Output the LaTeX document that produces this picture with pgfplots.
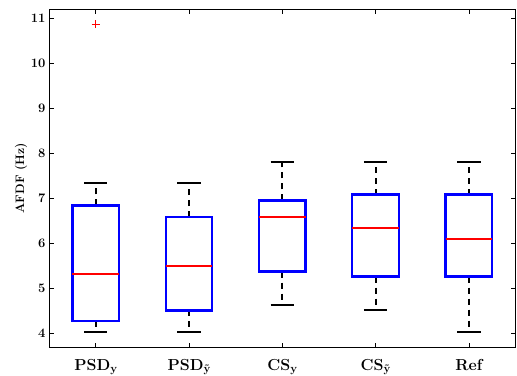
\documentclass[border=0pt]{standalone}
\usepackage{pgfplots}
\pgfplotsset{compat=1.18}
\usepgfplotslibrary{statistics}
\newcommand{\xl}[2]{\fontsize{16}{16}\selectfont\bfseries #1\raisebox{-2bp}{\fontsize{11.5}{11.5}\selectfont\bfseries #2}}
\begin{document}
\begin{tikzpicture}
\begin{axis}[
  name=ax,
  scale only axis,
  width=466bp, height=338bp,
  xmin=0.5, xmax=5.5,
  ymin=3.69, ymax=11.2,
  xtick={1,2,3,4,5},
  xticklabels={\xl{PSD}{y},\xl{PSD}{\~{y}},\xl{CS}{y},\xl{CS}{\~{y}},\xl{Ref}{}},
  ytick={4,5,6,7,8,9,10,11},
  tick align=inside,
  tick pos=both,
  major tick length=4.5bp,
  axis line style={line width=1bp},
  tick style={black, line width=0.6bp},
  /pgf/number format/assume math mode=true,
  yticklabel style={font=\fontsize{13}{13}\selectfont\bfseries},
  xticklabel style={anchor=base, yshift=-23bp},
  ylabel={\bfseries AFDF (Hz)},
  ylabel style={font=\fontsize{12.3}{13}\selectfont, yshift=-3bp},
  boxplot/draw direction=y,
  boxplot/box extend=0.5,
  boxplot/whisker extend=0.25,
  boxplot/every box/.style={draw=blue, line width=2.3bp},
  boxplot/every median/.style={draw=red, line width=2bp},
  boxplot/draw/lower whisker/.code={
    \draw[black, line width=2bp, dash pattern=on 6bp off 5bp]
      (boxplot box cs:\pgfplotsboxplotvalue{lower quartile},0.5) -- (boxplot box cs:\pgfplotsboxplotvalue{lower whisker},0.5);
    \draw[black, line width=2bp]
      (boxplot whisker cs:\pgfplotsboxplotvalue{lower whisker},0) -- (boxplot whisker cs:\pgfplotsboxplotvalue{lower whisker},1);
  },
  boxplot/draw/upper whisker/.code={
    \draw[black, line width=2bp, dash pattern=on 6bp off 5bp]
      (boxplot box cs:\pgfplotsboxplotvalue{upper quartile},0.5) -- (boxplot box cs:\pgfplotsboxplotvalue{upper whisker},0.5);
    \draw[black, line width=2bp]
      (boxplot whisker cs:\pgfplotsboxplotvalue{upper whisker},0) -- (boxplot whisker cs:\pgfplotsboxplotvalue{upper whisker},1);
  },
]
\addplot+[boxplot prepared={draw position=1, lower whisker=4.03, lower quartile=4.27, median=5.31, upper quartile=6.84, upper whisker=7.33}, draw=blue, mark=none] coordinates {};
\addplot+[boxplot prepared={draw position=2, lower whisker=4.03, lower quartile=4.51, median=5.49, upper quartile=6.58, upper whisker=7.33}, draw=blue, mark=none] coordinates {};
\addplot+[boxplot prepared={draw position=3, lower whisker=4.64, lower quartile=5.37, median=6.58, upper quartile=6.95, upper whisker=7.81}, draw=blue, mark=none] coordinates {};
\addplot+[boxplot prepared={draw position=4, lower whisker=4.51, lower quartile=5.26, median=6.34, upper quartile=7.08, upper whisker=7.81}, draw=blue, mark=none] coordinates {};
\addplot+[boxplot prepared={draw position=5, lower whisker=4.03, lower quartile=5.26, median=6.10, upper quartile=7.08, upper whisker=7.81}, draw=blue, mark=none] coordinates {};
\addplot[only marks, mark=+, red, mark size=4bp, line width=0.7bp] coordinates {(1,10.86)};
\end{axis}
\pgfresetboundingbox
\path ([shift={(-49bp,-28bp)}]ax.south west) rectangle ([shift={(1.5bp,9bp)}]ax.north east);
\end{tikzpicture}
\end{document}
